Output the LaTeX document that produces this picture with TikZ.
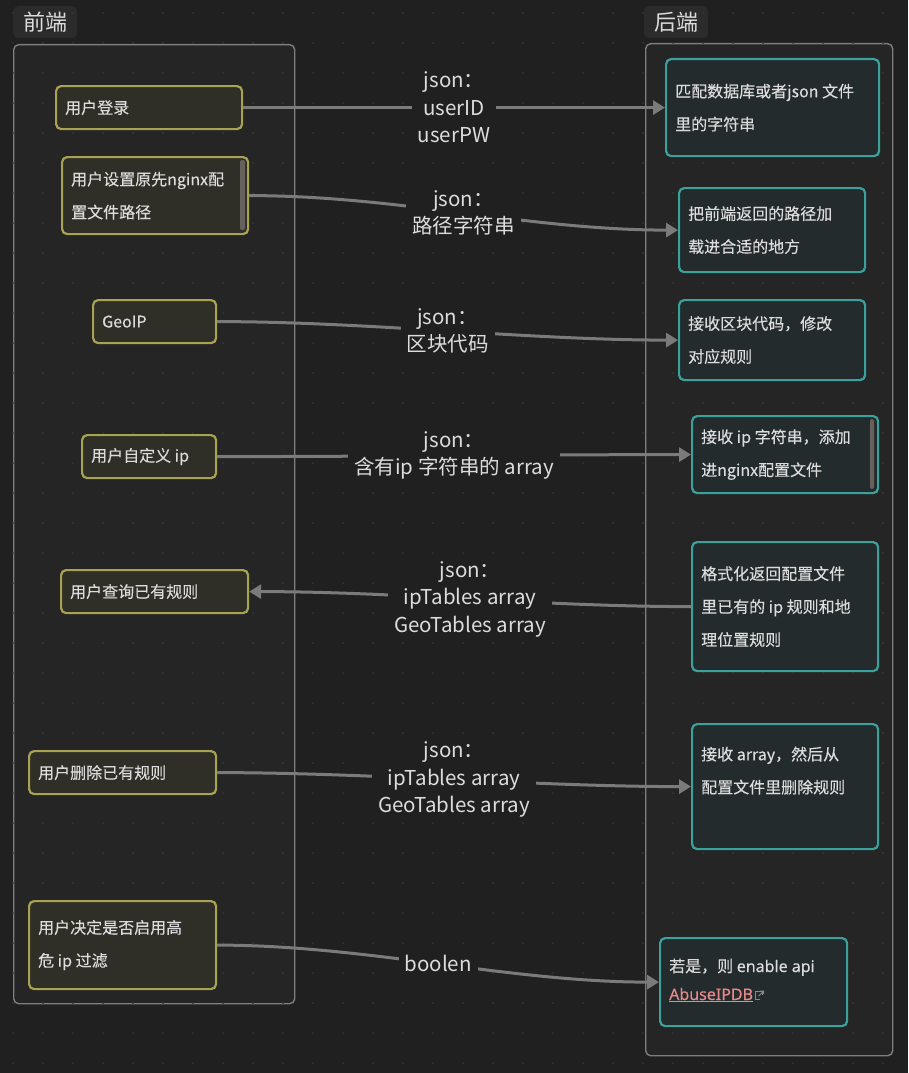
\documentclass[tikz,border=0pt]{standalone}
\usepackage{fontspec}
\setmainfont{Noto Sans CJK SC}
\newfontfamily\nodefont[FakeBold=0.25]{Noto Sans CJK SC}
\newfontfamily\latfont[FakeBold=0.15]{Noto Sans}
\usetikzlibrary{arrows.meta}
\definecolor{bg}{HTML}{202020}
\definecolor{groupfill}{HTML}{252525}
\definecolor{groupborder}{HTML}{7E7E7E}
\definecolor{glabfill}{HTML}{2B2B2B}
\definecolor{ybord}{HTML}{A7A353}
\definecolor{yfill}{HTML}{2F2E27}
\definecolor{tbord}{HTML}{3BA19D}
\definecolor{tfill}{HTML}{242B2C}
\definecolor{txtc}{HTML}{DCDCDC}
\definecolor{edgec}{HTML}{7B7B7B}
\definecolor{dotc}{HTML}{383838}
\definecolor{scrollc}{HTML}{67615D}
\definecolor{linkc}{HTML}{E8898A}
\tikzset{
  group/.style={draw=groupborder, fill=groupfill, line width=1.4pt, rounded corners=5pt, anchor=north west, inner sep=0pt},
  glab/.style={fill=glabfill, rounded corners=5pt, anchor=north west, inner sep=0pt, text=txtc, font=\fontsize{22}{26}\selectfont},
  ybox/.style={draw=ybord, fill=yfill, line width=2.2pt, rounded corners=5pt, anchor=north west, inner sep=0pt},
  tbox/.style={draw=tbord, fill=tfill, line width=2.2pt, rounded corners=5pt, anchor=north west, inner sep=0pt},
  ntxt/.style={text=txtc, font=\nodefont\fontsize{16}{33}\selectfont, align=left, inner sep=0pt, anchor=west},
  edge/.style={draw=edgec, line width=3pt, -{Triangle[length=12pt,width=14pt]}},
  elab/.style={fill=bg, text=txtc, font=\fontsize{20.5}{27.5}\selectfont, align=center, inner xsep=6pt, inner ysep=2pt},
  scroll/.style={fill=scrollc, rounded corners=2pt},
  icon/.style={draw=edgec!90!white, line width=0.9pt}
}
\begin{document}
\begin{tikzpicture}[x=1pt,y=-1pt]
\fill[bg] (0,0) rectangle (908,1073);
\useasboundingbox (0,0) rectangle (908,1073);

% groups
\node[group, minimum width=281pt, minimum height=959pt] (gl) at (13,44) {};
\node[group, minimum width=247pt, minimum height=1012pt] (gr) at (645,43) {};
\node[glab, minimum width=64pt, minimum height=32pt] (gla) at (13,6) {前端};
\node[glab, minimum width=64pt, minimum height=32pt] (gra) at (644,6) {后端};

% dot grid
\foreach \x in {13,43,...,903}
  \foreach \y in {13,43,...,1063}
    \fill[dotc] (\x,\y) circle (1pt);

% left nodes
\node[ybox, minimum width=186pt, minimum height=43pt] (l1) at (55,85) {};
\node[ybox, minimum width=186pt, minimum height=77pt] (l2) at (61,156) {};
\node[ybox, minimum width=123pt, minimum height=43pt] (l3) at (92,299) {};
\node[ybox, minimum width=134pt, minimum height=43pt] (l4) at (81,434) {};
\node[ybox, minimum width=187pt, minimum height=43pt] (l5) at (60,569) {};
\node[ybox, minimum width=187pt, minimum height=43pt] (l6) at (28,750) {};
\node[ybox, minimum width=187pt, minimum height=88pt] (l7) at (28,900) {};

% right nodes
\node[tbox, minimum width=213pt, minimum height=97pt] (r1) at (665,58) {};
\node[tbox, minimum width=186pt, minimum height=84pt] (r2) at (678,187) {};
\node[tbox, minimum width=186pt, minimum height=80pt] (r3) at (678,299) {};
\node[tbox, minimum width=186pt, minimum height=77pt] (r4) at (691,415) {};
\node[tbox, minimum width=186pt, minimum height=129pt] (r5) at (691,541) {};
\node[tbox, minimum width=186pt, minimum height=125pt] (r6) at (691,723) {};
\node[tbox, minimum width=187pt, minimum height=88pt] (r7) at (659,937) {};

% scrollbars
\fill[scroll] (240,160) rectangle (245,230);
\fill[scroll] (870,419) rectangle (874,489);

% node texts
\node[ntxt] (l1t) at ([xshift=10pt]l1.west) {用户登录};
\node[ntxt] (l2t) at ([xshift=10pt]l2.west) {用户设置原先nginx配\\置文件路径};
\node[ntxt] (l3t) at ([xshift=10pt]l3.west) {GeoIP};
\node[ntxt] (l4t) at ([xshift=10pt]l4.west) {用户自定义 ip};
\node[ntxt] (l5t) at ([xshift=10pt]l5.west) {用户查询已有规则};
\node[ntxt] (l6t) at ([xshift=10pt]l6.west) {用户删除已有规则};
\node[ntxt] (l7t) at ([xshift=10pt]l7.west) {用户决定是否启用高\\危 ip 过滤};

\node[ntxt] (r1t) at ([xshift=10pt]r1.west) {匹配数据库或者json 文件\\里的字符串};
\node[ntxt] (r2t) at ([xshift=10pt]r2.west) {把前端返回的路径加\\载进合适的地方};
\node[ntxt] (r3t) at ([xshift=10pt]r3.west) {接收区块代码，修改\\对应规则};
\node[ntxt] (r4t) at ([xshift=10pt]r4.west) {接收 ip 字符串，添加\\进nginx配置文件};
\node[ntxt] (r5t) at ([xshift=10pt]r5.west) {格式化返回配置文件\\里已有的 ip 规则和地\\理位置规则};
\node[ntxt] (r6t) at ([xshift=10pt,yshift=16pt]r6.west) {接收 array，然后从\\配置文件里删除规则};
\node[ntxt, anchor=base west] (r7t) at (669,972) {若是，则 {\latfont enable api}};
\node[ntxt, anchor=base west, text=linkc] (r7l) at (669,1000) {\latfont\underline{AbuseIPDB}};
\begin{scope}[shift={(r7l.base east)}]
  \draw[icon] (6.5,-1) -| (2.5,-8.5) -| (9.5,-5);
  \draw[icon] (5.5,-4) -- (10,-8.5);
  \fill[edgec!90!white] (10.8,-9.3) -- (7,-9.3) -- (10.8,-5.5) -- cycle;
\end{scope}

% edges
\draw[edge] (l1.east) -- node[elab] (e1) {json：\\userID\\userPW} (r1.west);
\draw[edge] (l2.east) .. controls +(150,0) and +(-150,0) .. node[elab] (e2) {json：\\路径字符串} (r2.west);
\draw[edge] (l3.east) .. controls +(150,0) and +(-150,0) .. node[elab] (e3) {json：\\区块代码} (r3.west);
\draw[edge] (l4.east) .. controls +(150,0) and +(-150,0) .. node[elab] (e4) {json：\\含有ip 字符串的 array} (r4.west);
\draw[edge] (r5.west) .. controls +(-150,0) and +(150,0) .. node[elab] (e5) {json：\\ipTables array\\GeoTables array} (l5.east);
\draw[edge] (l6.east) .. controls +(150,0) and +(-150,0) .. node[elab] (e6) {json：\\ipTables array\\GeoTables array} (r6.west);
\draw[edge] (l7.east) .. controls +(150,0) and +(-150,0) .. node[elab] (e7) {boolen} (r7.west);
\end{tikzpicture}
\end{document}
